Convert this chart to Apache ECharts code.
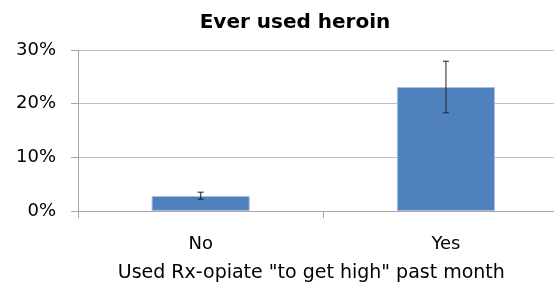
<!DOCTYPE html>
<html>
<head>
<meta charset="utf-8">
<script src="https://cdn.jsdelivr.net/npm/echarts@6/dist/echarts.min.js"></script>
<style>
	html, body { margin: 0; padding: 0; background: #fff; }
	#main { width: 554px; height: 286px; }
</style>
</head>
<body>
<div id="main"></div>
<script>
// data
var categories = ['No', 'Yes'];
var heroinPct = [2.8, 23.1];
var errLow = [2.2, 18.3];
var errHigh = [3.5, 27.9];
var yTicks = [0, 10, 20, 30];

var font = 'DejaVu Sans';

var myChart = echarts.init(document.getElementById('main'));

var errData = categories.map(function(c, i) {
	return [i, errLow[i], errHigh[i]];
});

var option = {
	animation: false,
	title: {
		text: 'Ever used heroin',
		left: 290,
		top: 8,
		textAlign: 'center',
		textStyle: { fontFamily: font, fontWeight: 'bold', fontSize: 20, color: '#000' }
	},
	// plot runs past the right edge, like the original
	grid: { left: 78, width: 490.6, top: 50, bottom: 75, outerBoundsMode: 'none', containLabel: false },
	xAxis: {
		type: 'category',
		data: categories,
		name: 'Used Rx-opiate "to get high" past month',
		nameLocation: 'middle',
		nameGap: 53,
		nameTextStyle: { fontFamily: font, fontSize: 19, color: '#000', padding: [0, 24, 0, 0] },
		axisLine: { lineStyle: { color: '#a6a6a6' } },
		axisTick: { show: true, length: 7, lineStyle: { color: '#a6a6a6' } },
		axisLabel: { fontFamily: font, fontSize: 18, color: '#000', margin: 24 }
	},
	yAxis: {
		type: 'value',
		min: yTicks[0],
		max: yTicks[yTicks.length - 1],
		interval: 10,
		axisLine: { show: true, lineStyle: { color: '#a6a6a6' } },
		axisTick: { show: true, length: 7, lineStyle: { color: '#a6a6a6' } },
		axisLabel: { fontFamily: font, fontSize: 18, color: '#000', margin: 22, formatter: '{value}%' },
		splitLine: { lineStyle: { color: '#bfbfbf' } }
	},
	series: [{
		name: 'Ever used heroin',
		type: 'bar',
		data: heroinPct,
		barWidth: '40%',
		itemStyle: { color: '#4f81bd', borderColor: '#a9c1df', borderWidth: 1 }
	}, {
		type: 'custom',
		data: errData,
		z: 5,
		renderItem: function(params, api) {
			var x = api.value(0);
			var lo = api.coord([x, api.value(1)]);
			var hi = api.coord([x, api.value(2)]);
			var w = 3;
			var st = { stroke: '#222', lineWidth: 1.2, opacity: 0.85 };
			return {
				type: 'group',
				children: [
					{ type: 'line', shape: { x1: hi[0], y1: hi[1], x2: lo[0], y2: lo[1] }, style: st },
					{ type: 'line', shape: { x1: hi[0] - w, y1: hi[1], x2: hi[0] + w, y2: hi[1] }, style: st },
					{ type: 'line', shape: { x1: lo[0] - w, y1: lo[1], x2: lo[0] + w, y2: lo[1] }, style: st }
				]
			};
		}
	}]
};

myChart.setOption(option);
</script>
</body>
</html>
